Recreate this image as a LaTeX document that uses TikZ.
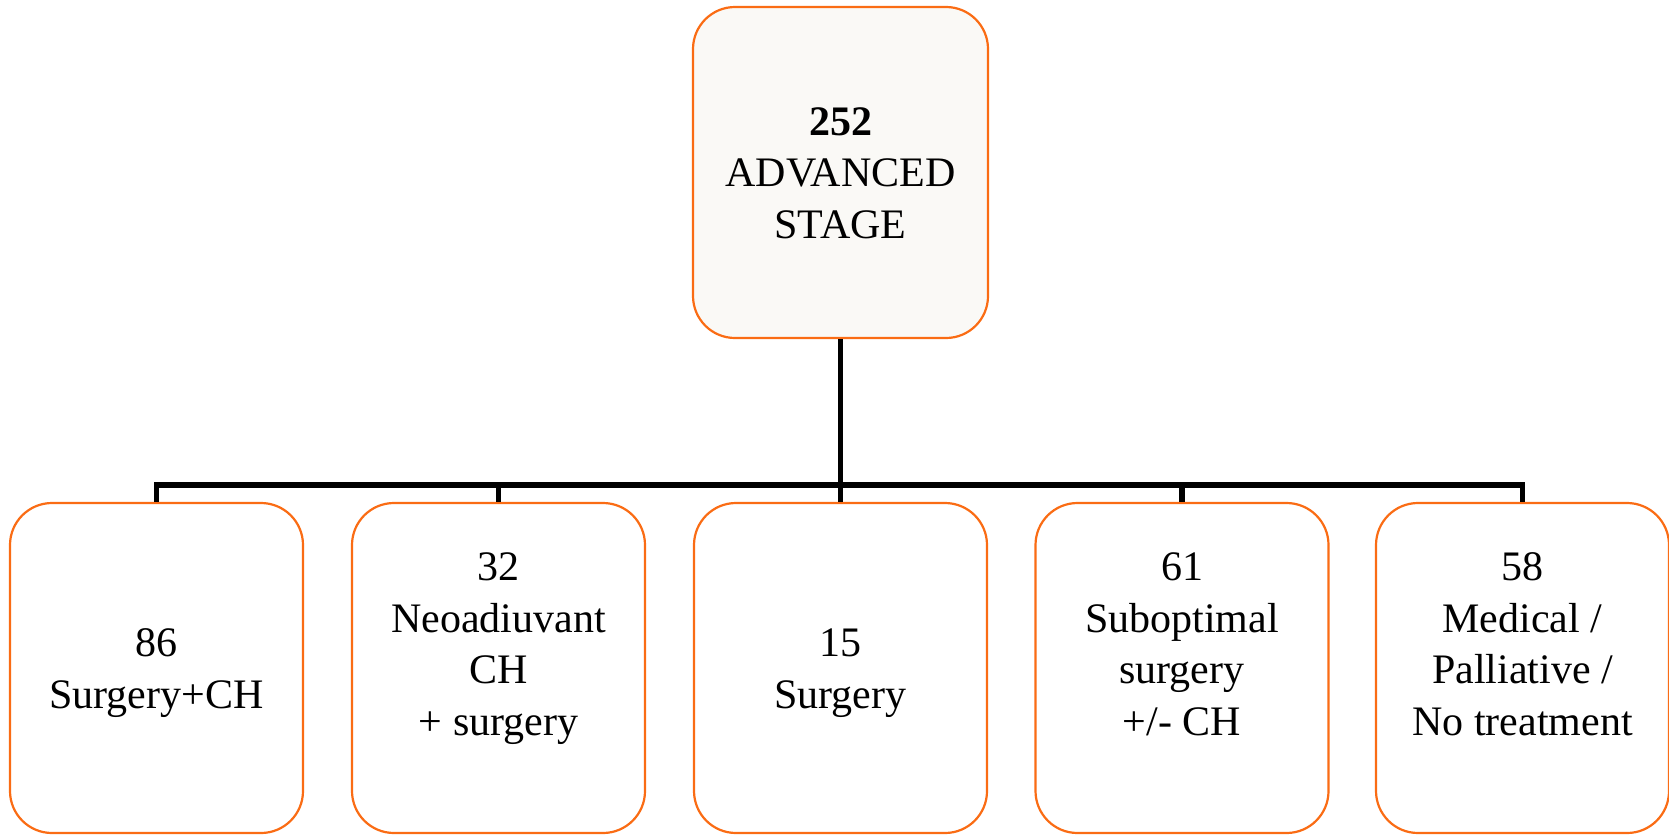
\documentclass[tikz,border=0pt]{standalone}
\usepackage{fontspec}
\setmainfont{Liberation Serif}
\begin{document}
\begin{tikzpicture}[x=1pt,y=-1pt,
  box/.style={draw=boxorange, line width=2.2pt, rounded corners=42pt,
    minimum width=293pt, minimum height=330pt, inner sep=0pt, fill=white},
  topbox/.style={box, fill=topfill, minimum width=295pt, minimum height=331pt},
  txt/.style={anchor=base, align=center, inner sep=0pt,
    font=\fontsize{42}{51.5}\selectfont},
  conn/.style={draw=black, line width=5.5pt}]
\definecolor{boxorange}{RGB}{250,108,20}
\definecolor{topfill}{RGB}{250,249,246}
\useasboundingbox (0,0) rectangle (1669,835);

% boxes
\node[topbox] (top) at (840.5,172.5) {};
\node[box] (b1) at (156.5,668) {};
\node[box] (b2) at (498.5,668) {};
\node[box] (b3) at (840.5,668) {};
\node[box] (b4) at (1182,668) {};
\node[box] (b5) at (1522.5,668) {};

% connectors
\coordinate (bus) at (840.5,485);
\draw[conn] (top.south) -- (bus);
\draw[conn] (b1.north) |- (bus) -| (b5.north);
\draw[conn] (b2.north) -- (b2.north |- bus);
\draw[conn] (b3.north) -- (b3.north |- bus);
\draw[conn] (b4.north) -- (b4.north |- bus);

% labels (placed by the baseline of their last line)
\node[txt] (t0) at (840.5,238) {\textbf{252}\\ADVANCED\\STAGE};
\node[txt] (t1) at (156.5,708) {86\\Surgery+CH};
\node[txt] (t2) at (498.5,735) {32\\Neoadiuvant\\CH\\+ surgery};
\node[txt] (t3) at (840.5,708) {15\\Surgery};
\node[txt] (t4) at (1182,735) {61\\Suboptimal\\surgery\\+/- CH};
\node[txt] (t5) at (1522.5,735) {58\\Medical /\\Palliative /\\No treatment};
\end{tikzpicture}
\end{document}
